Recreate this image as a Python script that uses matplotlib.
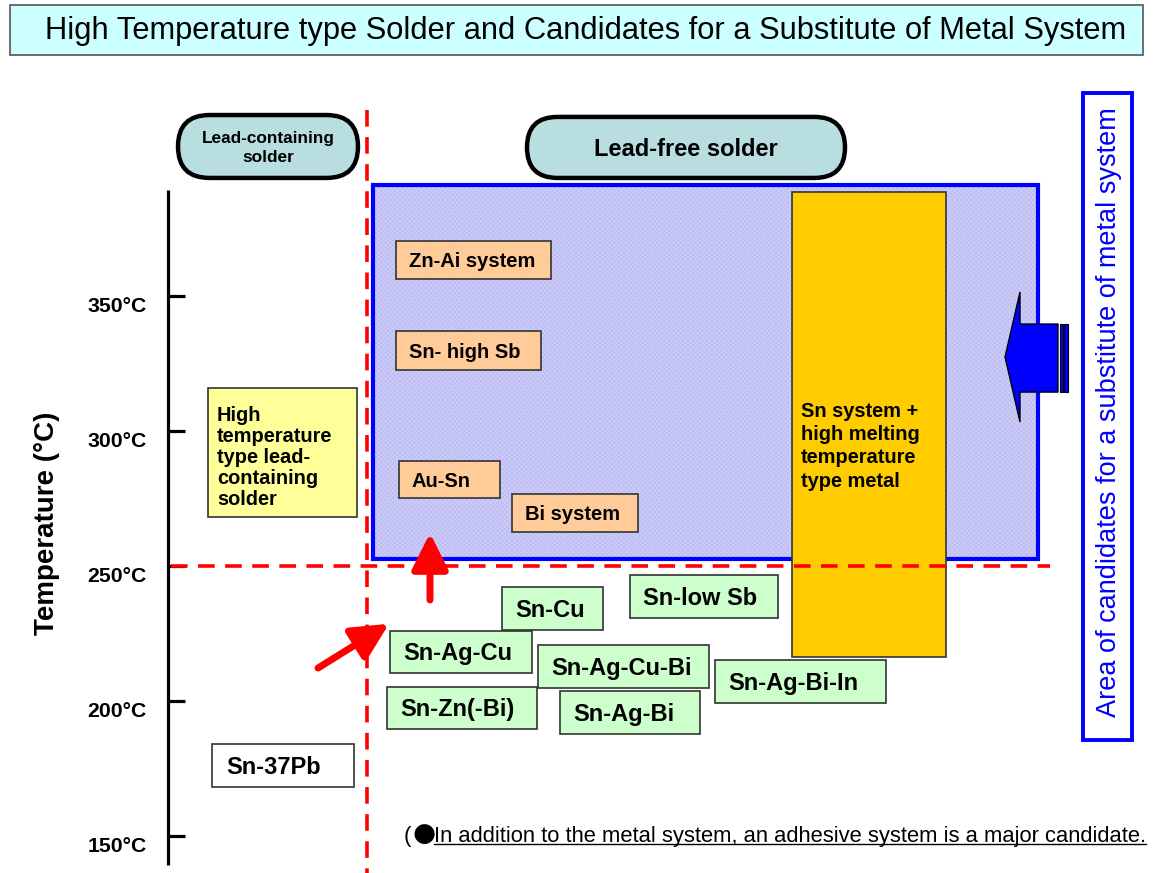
"""High temperature solder diagram: lead-containing vs lead-free candidates on a temperature scale."""
import matplotlib
matplotlib.use("Agg")
import matplotlib.pyplot as plt
import matplotlib.patches as mpatches

plt.rcParams["font.family"] = ["Liberation Sans", "DejaVu Sans"]
plt.rcParams["hatch.linewidth"] = 0.5

TITLE = "High Temperature type Solder and Candidates for a Substitute of Metal System"
Y_LABEL = "Temperature (\u00b0C)"
SIDE_LABEL = "Area of candidates for a substitute of metal system"
NOTE = "In addition to the metal system, an adhesive system is a major candidate."

# temperature scale
TICKS = [350, 300, 250, 200, 150]
THRESHOLD = 250
T_MIN, T_MAX = 136.3, 459.6

# solder boxes: label, horizontal span, temperature span (top, bottom)
GREEN_LABELS = ["Sn-Cu", "Sn-low Sb", "Sn-Ag-Cu", "Sn-Ag-Cu-Bi", "Sn-Ag-Bi-In", "Sn-Zn(-Bi)", "Sn-Ag-Bi"]
GREEN_X = [(502, 603), (630, 778), (390, 532), (538, 709), (715, 886), (387, 537), (560, 700)]
GREEN_T = [(242.2, 226.3), (246.7, 230.7), (225.9, 210.4), (220.7, 204.8), (215.2, 199.3), (205.2, 189.6), (203.7, 187.8)]

ORANGE_LABELS = ["Zn-Ai system", "Sn- high Sb", "Au-Sn", "Bi system"]
ORANGE_X = [(396, 551), (396, 541), (399, 500), (512, 638)]
ORANGE_T = [(370.4, 356.3), (337.0, 322.6), (288.9, 275.2), (276.7, 262.6)]

LEAD_LABEL = "Sn-37Pb"
LEAD_X = (212, 354)
LEAD_T = (184.1, 168.1)

HT_LEAD_LABEL = "High\ntemperature\ntype lead-\ncontaining\nsolder"
HT_LEAD_X = (208, 357)
HT_LEAD_T = (315.9, 268.1)

METAL_LABEL = "Sn system +\nhigh melting\ntemperature\ntype metal"
METAL_X = (792, 946)
METAL_T = (388.5, 216.3)
METAL_TEXT_TOP = 310.7

FREE_AREA_X = (373, 1038)
FREE_AREA_T = (391.1, 252.6)

PILL_LABELS = ["Lead-containing\nsolder", "Lead-free solder"]
PILL_X = [(178, 358), (527, 845)]
PILL_T = [(417.0, 393.7), (416.3, 393.7)]

SIDE_X = (1083, 1132)
SIDE_T = (425.2, 185.6)

TITLE_X = (10, 1143)
TITLE_T = (457.8, 439.3)

AXIS_X = 168
AXIS_T = (389.3, 139.3)
DIVIDER_X = 367

# blue arrow outline (x, temperature)
BLUE_ARROW_X = [1005, 1020, 1020, 1058, 1058, 1020, 1020]
BLUE_ARROW_T = [327.4, 351.5, 339.6, 339.6, 314.4, 314.4, 303.3]
BLUE_BARS_X = [(1060, 1062.5), (1064, 1068)]

# red arrows: (tail, tip)
RED_ARROWS = [((430, 237.4), (430, 262.2)), ((318, 212.2), (389, 228.6))]

PX_PER_DEG = 2.7
PX_PER_PT = 100 / 72


def deg(px: float) -> float:
    """pixel distance -> temperature distance"""
    return px / PX_PER_DEG


def add_box(ax, xspan, tspan, face, edge="#333333", lw=1.2, z=2, **kw):
    x0, x1 = xspan
    top, bot = tspan
    rect = mpatches.Rectangle((x0, bot), x1 - x0, top - bot, facecolor=face,
                              edgecolor=edge, linewidth=lw, zorder=z, **kw)
    ax.add_patch(rect)
    return rect


def box_label(ax, text, xspan, tspan, size, pad=13, z=3, **kw):
    # centre the capitals in the box
    base = (tspan[0] + tspan[1]) / 2 - deg(0.716 * size * PX_PER_PT / 2)
    ax.text(xspan[0] + pad, base, text, ha="left", va="baseline",
            fontsize=size, fontweight="bold", zorder=z, **kw)


def main() -> None:
    fig = plt.figure(figsize=(11.54, 8.73), dpi=100)
    ax = fig.add_axes([0, 0, 1, 1])
    ax.set_xlim(0, 1154)
    ax.set_ylim(T_MIN, T_MAX)
    ax.axis("off")

    # title banner
    add_box(ax, TITLE_X, TITLE_T, "#CCFFFF", edge="#555555", lw=1.2)
    ax.text((TITLE_X[0] + TITLE_X[1]) / 2 + 9, (TITLE_T[0] + TITLE_T[1]) / 2 - 0.6, TITLE,
            ha="center", va="center", fontsize=22.2)

    # lead-free area (hatched lavender) and its border
    add_box(ax, FREE_AREA_X, FREE_AREA_T, "#CDCDF8", edge="#B9B9F3", lw=0, z=1, hatch="xxxxxxx")
    add_box(ax, FREE_AREA_X, FREE_AREA_T, "none", edge="#0000FF", lw=3.0, z=1.5)

    # category pills
    for label, xs, ts, size in zip(PILL_LABELS, PILL_X, PILL_T, [12.4, 17]):
        h = ts[0] - ts[1]
        pill = mpatches.FancyBboxPatch(
            (xs[0], ts[1]), xs[1] - xs[0], h,
            boxstyle=f"round,pad=0,rounding_size={h * PX_PER_DEG / 2:.1f}",
            mutation_aspect=1 / PX_PER_DEG,
            facecolor="#B8DEE0", edgecolor="black", linewidth=3.2, zorder=2,
        )
        ax.add_patch(pill)
        ax.text((xs[0] + xs[1]) / 2, (ts[0] + ts[1]) / 2 - 0.6, label, ha="center", va="center",
                fontsize=size, fontweight="bold", linespacing=1.37, zorder=3)

    # temperature axis
    ax.plot([AXIS_X, AXIS_X], AXIS_T, color="black", lw=2.3, zorder=2, solid_capstyle="butt")
    for t in TICKS:
        ax.plot([AXIS_X, AXIS_X + 17], [t, t], color="black", lw=2.3, zorder=2, solid_capstyle="butt")
        ax.text(147, t - deg(16), f"{t}\u00b0C", ha="right", va="baseline",
                fontsize=15.3, fontweight="bold")
    ax.text(47, (AXIS_T[0] + AXIS_T[1]) / 2 + 1.5, Y_LABEL, rotation=90, ha="center", va="center",
            fontsize=20, fontweight="bold")

    # metal system column
    add_box(ax, METAL_X, METAL_T, "#FFCC00", edge="#333333", lw=1.2, z=2)
    ax.text(METAL_X[0] + 9, METAL_TEXT_TOP, METAL_LABEL, ha="left", va="top", fontsize=14.4,
            fontweight="bold", linespacing=1.28, zorder=3)

    # high temperature lead-containing solder
    add_box(ax, HT_LEAD_X, HT_LEAD_T, "#FFFF99")
    ax.text(HT_LEAD_X[0] + 9, HT_LEAD_T[0] - deg(18), HT_LEAD_LABEL,
            ha="left", va="top", fontsize=14.4, fontweight="bold", linespacing=1.13, zorder=3)

    for label, xs, ts in zip(ORANGE_LABELS, ORANGE_X, ORANGE_T):
        add_box(ax, xs, ts, "#FFCC99")
        box_label(ax, label, xs, ts, 14.5)

    for label, xs, ts in zip(GREEN_LABELS, GREEN_X, GREEN_T):
        add_box(ax, xs, ts, "#CCFFCC")
        box_label(ax, label, xs, ts, 17)

    add_box(ax, LEAD_X, LEAD_T, "white")
    box_label(ax, LEAD_LABEL, LEAD_X, LEAD_T, 17, pad=14)

    # dashed 250 °C line and lead/lead-free divider
    dash = (0, (4.6, 2.9))
    ax.plot([AXIS_X + 3, 1050], [THRESHOLD, THRESHOLD], color="#FF0000", lw=2.6,
            linestyle=dash, zorder=4)
    ax.plot([DIVIDER_X, DIVIDER_X], [418.9, T_MIN], color="#FF0000", lw=2.6,
            linestyle=dash, zorder=4)

    # red arrows
    for tail, tip in RED_ARROWS:
        ax.annotate("", xy=tip, xytext=tail, zorder=5,
                    arrowprops=dict(arrowstyle="-|>,head_length=1.1,head_width=0.55",
                                    color="#FF0000", lw=5, mutation_scale=20,
                                    shrinkA=0, shrinkB=0))

    # blue arrow into the lead-free area
    ax.add_patch(mpatches.Polygon(list(zip(BLUE_ARROW_X, BLUE_ARROW_T)), closed=True,
                                  facecolor="#0000FF", edgecolor="black", lw=1.0, zorder=5))
    for bx in BLUE_BARS_X:
        add_box(ax, bx, (BLUE_ARROW_T[2], BLUE_ARROW_T[4]), "#0000FF", edge="black", lw=0.8, z=5)

    # side label
    add_box(ax, SIDE_X, SIDE_T, "white", edge="#0000FF", lw=2.8)
    ax.text((SIDE_X[0] + SIDE_X[1]) / 2 + 1, (SIDE_T[0] + SIDE_T[1]) / 2 + 1.5, SIDE_LABEL,
            rotation=90, ha="center", va="center", fontsize=19.5, color="#0000FF")

    # footnote with underline
    ax.text(404, 150, "(", ha="left", va="center", fontsize=15.8)
    ax.text(413, 150.6, "\u25cf", ha="left", va="center", fontsize=19, family="DejaVu Sans")
    note = ax.text(434, 150, NOTE, ha="left", va="center", fontsize=15.8)
    fig.canvas.draw()
    bb = note.get_window_extent().transformed(ax.transData.inverted())
    y_line = bb.y0 + 0.9
    ax.plot([bb.x0, bb.x1], [y_line, y_line], color="black", lw=1.0)

    fig.savefig("out.png", dpi=100)
    plt.close(fig)


if __name__ == "__main__":
    main()
